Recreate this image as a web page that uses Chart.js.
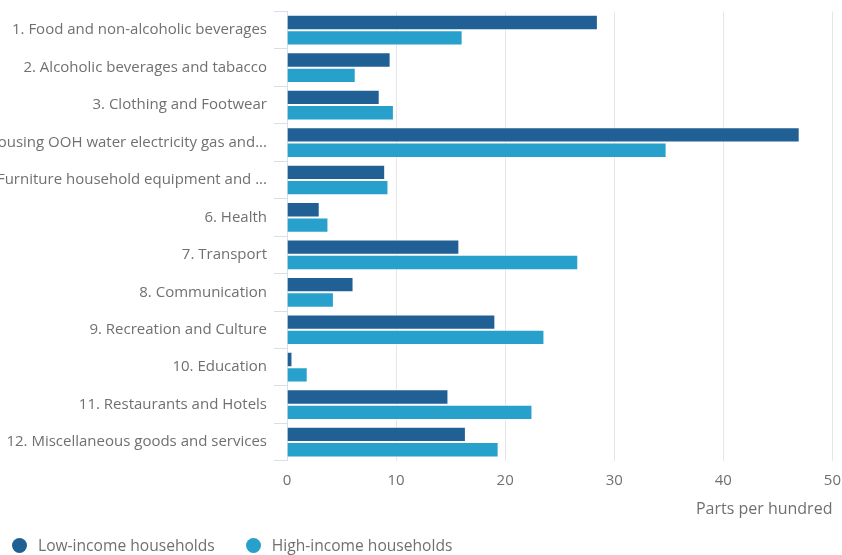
<!DOCTYPE html>
<html>
<head>
<meta charset="utf-8">
<script src="https://cdn.jsdelivr.net/npm/chart.js@4"></script>
<style>
  body { margin: 0; background: #fff; }
  #wrap { position: relative; width: 842px; height: 555px; }
  #legenda { position: absolute; left: 12px; top: 534px; font: 15.6px/22px "Open Sans", sans-serif; color: #707070; display: flex; }
  #legenda span.item { display: flex; align-items: center; margin-right: 31px; }
  #legenda span.dot { width: 15px; height: 15px; border-radius: 50%; margin-right: 11px; display: inline-block; }
</style>
</head>
<body>
<div id="wrap">
  <canvas id="grafico" width="842" height="555"></canvas>
  <div id="legenda"></div>
</div>
<script>
// Categorias (eixo Y)
var categorias = [
    '1. Food and non-alcoholic beverages',
    '2. Alcoholic beverages and tabacco',
    '3. Clothing and Footwear',
    '4. Housing OOH water electricity gas and...',
    '5. Furniture household equipment and ...',
    '6. Health',
    '7. Transport',
    '8. Communication',
    '9. Recreation and Culture',
    '10. Education',
    '11. Restaurants and Hotels',
    '12. Miscellaneous goods and services'
];

// Valores (partes por cem)
var baixaRenda = [28.5, 9.5, 8.5, 47.0, 9.0, 3.0, 15.8, 6.1, 19.1, 0.5, 14.8, 16.4];
var altaRenda = [16.1, 6.3, 9.8, 34.8, 9.3, 3.8, 26.7, 4.3, 23.6, 1.9, 22.5, 19.4];

var nomesSeries = ['Low-income households', 'High-income households'];
var cores = ['#206095', '#27a0cc'];

var corTexto = '#707070';
var fonte = { family: '"Open Sans", sans-serif', size: 15 };

var ctx = document.getElementById('grafico').getContext('2d');

var grafico = new Chart(ctx, {
    type: 'bar',
    data: {
        labels: categorias,
        datasets: [{
            label: nomesSeries[0],
            data: baixaRenda,
            backgroundColor: cores[0],
            borderColor: 'rgba(255,255,255,0.55)',
            borderWidth: 1,
        }, {
            label: nomesSeries[1],
            data: altaRenda,
            backgroundColor: cores[1],
            borderColor: 'rgba(255,255,255,0.55)',
            borderWidth: 1,
        }]
    },
    options: {
        indexAxis: 'y',
        responsive: false,
        animation: false,
        layout: {
            padding: { top: 11.5, right: 0, bottom: 36, left: 0 }
        },
        datasets: {
            bar: { categoryPercentage: 0.82, barPercentage: 1 }
        },
        plugins: {
            legend: { display: false },
            tooltip: { enabled: false }
        },
        scales: {
            x: {
                min: 0,
                max: 50,
                ticks: { stepSize: 10, color: corTexto, font: fonte, padding: 1 },
                grid: { color: '#e6e6e6', drawTicks: true, tickLength: 9.5, tickColor: 'rgba(0,0,0,0)' },
                border: { display: false },
                title: {
                    display: true,
                    text: 'Parts per hundred',
                    align: 'end',
                    color: corTexto,
                    font: { family: '"Open Sans", sans-serif', size: 16 },
                    padding: { top: 9.5, bottom: 0 }
                }
            },
            y: {
                ticks: { color: corTexto, font: fonte, padding: 7, autoSkip: false },
                grid: { drawOnChartArea: false, color: '#d9dfea', tickLength: 13 },
                border: { color: '#d9dfea' },
                afterFit: function (escala) {
                    escala.width = 287; // largura fixa, os rótulos longos são cortados
                    escala.paddingTop = 0;
                    escala.paddingBottom = 0;
                }
            }
        }
    }
});

// Legenda em HTML
var legenda = document.getElementById('legenda');
nomesSeries.forEach(function (nome, i) {
    var item = document.createElement('span');
    item.className = 'item';
    item.innerHTML = '<span class="dot" style="background:' + cores[i] + '"></span>' + nome;
    legenda.appendChild(item);
});
</script>
</body>
</html>
